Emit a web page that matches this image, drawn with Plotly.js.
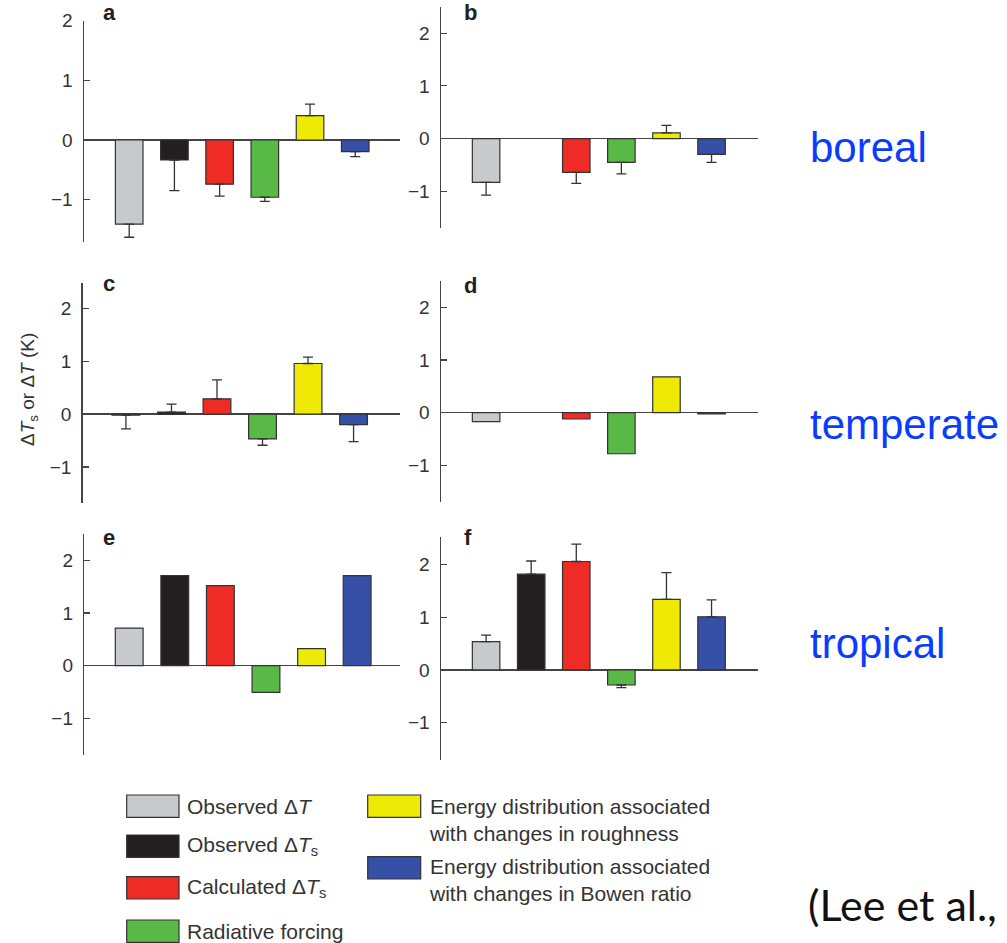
<!DOCTYPE html>
<html>
<head>
<meta charset="utf-8">
<script src="https://cdn.plot.ly/plotly-3.0.1.min.js"></script>
<style>html,body{margin:0;padding:0;background:#fff;}#chart{width:1007px;height:943px;}</style>
</head>
<body>
<div id="chart"></div>
<script>
// ---------------- DATA ----------------
const categories = ['Observed ΔT', 'Observed ΔTs', 'Calculated ΔTs', 'Radiative forcing',
  'Energy distribution (roughness)', 'Energy distribution (Bowen ratio)'];
const legendLabels = ['Observed Δ<i>T</i>', 'Observed Δ<i>T</i><sub>s</sub>', 'Calculated Δ<i>T</i><sub>s</sub>',
  'Radiative forcing', 'Energy distribution associated<br>with changes in roughness',
  'Energy distribution associated<br>with changes in Bowen ratio'];
const panelLetters = ['a', 'b', 'c', 'd', 'e', 'f'];
const regionLabels = ['boreal', 'temperate', 'tropical'];
const citation = '(Lee et al.,';
const yTickVals = [-1, 0, 1, 2];
const yTickText = ['\u22121', '0', '1', '2'];
const yTitle = 'Δ<i>T</i><sub>s</sub> or Δ<i>T</i> (K)';

// values (K) and one-sided error magnitudes
const valuesA = [-1.41, -0.335, -0.74, -0.96, 0.41, -0.195];
const errorsA = [0.22, 0.515, 0.20, 0.07, 0.19, 0.085];
const valuesB = [-0.83, null, -0.64, -0.45, 0.11, -0.30];
const errorsB = [0.24, null, 0.21, 0.22, 0.14, 0.15];
const valuesC = [-0.02, 0.04, 0.29, -0.47, 0.96, -0.20];
const errorsC = [0.26, 0.15, 0.36, 0.12, 0.12, 0.32];
const valuesD = [-0.17, null, -0.12, -0.78, 0.68, -0.025];
const errorsD = null;
const valuesE = [0.71, 1.71, 1.52, -0.51, 0.32, 1.71];
const errorsE = null;
const valuesF = [0.54, 1.82, 2.06, -0.285, 1.34, 1.01];
const errorsF = [0.12, 0.25, 0.33, 0.05, 0.51, 0.32];

// ---------------- STYLE / LAYOUT ----------------
const barColors = ['#c8c9cc', '#231f20', '#ee2b24', '#58b946', '#eeea05', '#3550a6'];
const W = 1007, H = 943;
const px = x => x / W;
const py = y => 1 - y / H;
const FONT = 'Liberation Sans, Arial, Helvetica, sans-serif';
const INK = '#333333';

// panel geometry in pixels: [xLeft, xRight], [yTop, yBottom], y range, x range
const panels = [
  {vals: valuesA, errs: errorsA, xd: [84, 400],   yd: [20.7, 242],  yr: [-1.71, 2.0],  xr: [0, 6.99],     letter: [101, 21.7]},
  {vals: valuesB, errs: errorsB, xd: [441, 758],  yd: [7.3, 228.3], yr: [-1.70, 2.49], xr: [0, 7.03],     letter: [462, 21.7]},
  {vals: valuesC, errs: errorsC, xd: [82.7, 400], yd: [283.3, 503.3], yr: [-1.69, 2.48], xr: [0.05, 7.02], letter: [101, 293]},
  {vals: valuesD, errs: errorsD, xd: [441, 758],  yd: [281, 501.7], yr: [-1.69, 2.50], xr: [0, 7.03],     letter: [462, 295]},
  {vals: valuesE, errs: errorsE, xd: [84.3, 400], yd: [534, 755],   yr: [-1.70, 2.50], xr: [0.015, 6.94], letter: [101, 546.7]},
  {vals: valuesF, errs: errorsF, xd: [441, 758],  yd: [537.3, 760], yr: [-1.71, 2.52], xr: [0, 7.03],     letter: [462, 546.7]}
];

const xPos = categories.map((_, i) => i + 1);
const traces = [];
const layout = {
  width: W, height: H,
  margin: {l: 0, r: 0, t: 0, b: 0},
  paper_bgcolor: '#ffffff', plot_bgcolor: 'rgba(0,0,0,0)',
  showlegend: false,
  bargap: 0,
  font: {family: FONT, color: INK},
  annotations: [],
  shapes: []
};

panels.forEach((p, k) => {
  const n = k === 0 ? '' : String(k + 1);
  const tr = {
    type: 'bar',
    x: xPos,
    y: p.vals,
    width: xPos.map(() => 0.61),
    marker: {color: barColors, line: {color: INK, width: 1.2}},
    xaxis: 'x' + n, yaxis: 'y' + n,
    hoverinfo: 'skip',
    cliponaxis: false
  };
  if (p.errs) {
    tr.error_y = {
      type: 'data', symmetric: false,
      array: p.vals.map((v, i) => (v === null ? 0 : (v >= 0 ? p.errs[i] : 0))),
      arrayminus: p.vals.map((v, i) => (v === null ? 0 : (v < 0 ? p.errs[i] : 0))),
      color: INK, thickness: 1.3, width: 5
    };
  }
  traces.push(tr);
  layout['xaxis' + n] = {
    domain: [px(p.xd[0]), px(p.xd[1])], range: p.xr,
    anchor: 'y' + n, visible: false, fixedrange: true
  };
  layout['yaxis' + n] = {
    domain: [py(p.yd[1]), py(p.yd[0])], range: p.yr,
    anchor: 'x' + n, showgrid: false,
    zeroline: true, zerolinecolor: '#444', zerolinewidth: 1.5,
    showline: true, linecolor: '#444', linewidth: 1.5,
    ticks: 'inside', ticklen: 6, tickwidth: 1.2, tickcolor: '#444',
    tickvals: yTickVals, ticktext: yTickText,
    tickfont: {family: FONT, size: 19, color: INK},
    ticklabelstandoff: 6, fixedrange: true
  };
  layout.annotations.push({
    xref: 'paper', yref: 'paper', x: px(p.letter[0]), y: py(p.letter[1] + 5),
    xanchor: 'left', yanchor: 'bottom', showarrow: false,
    text: '<b>' + panelLetters[k] + '</b>',
    font: {family: FONT, size: 22, color: '#222'}
  });
});

// y-axis title (shared)
layout.annotations.push({
  xref: 'paper', yref: 'paper', x: px(29), y: py(390), textangle: -90,
  xanchor: 'center', yanchor: 'middle', showarrow: false,
  text: yTitle, font: {family: FONT, size: 19, color: INK}
});

// region labels
const regionY = [147, 425, 643];
regionLabels.forEach((t, i) => {
  layout.annotations.push({
    xref: 'paper', yref: 'paper', x: px(808), y: py(regionY[i]),
    xanchor: 'left', yanchor: 'middle', showarrow: false,
    text: t, font: {family: FONT, size: 42, color: '#0a3cff'}
  });
});
layout.annotations.push({
  xref: 'paper', yref: 'paper', x: px(806), y: py(904),
  xanchor: 'left', yanchor: 'middle', showarrow: false,
  text: citation, font: {family: 'Lato, Carlito, sans-serif', size: 43, color: '#111'}
});

// legend (drawn manually: swatches + labels)
const legendSlots = [
  {sx: [126.7, 179], sy: [795, 817.3], ty: 806},
  {sx: [126.7, 179], sy: [835, 857.3], ty: 846},
  {sx: [126.7, 179], sy: [876.7, 899], ty: 888},
  {sx: [126.7, 179], sy: [920, 942.3], ty: 931},
  {sx: [367.7, 420.7], sy: [795, 817.3], ty: 820},
  {sx: [367.7, 420.7], sy: [856.7, 879], ty: 880}
];
legendSlots.forEach((s, i) => {
  layout.shapes.push({
    type: 'rect', xref: 'paper', yref: 'paper',
    x0: px(s.sx[0]), x1: px(s.sx[1]), y0: py(s.sy[1]), y1: py(s.sy[0]),
    fillcolor: barColors[i], line: {color: INK, width: 1.2}
  });
  layout.annotations.push({
    xref: 'paper', yref: 'paper', x: px(s.sx[1] + 6), y: py(s.ty),
    xanchor: 'left', yanchor: 'middle', align: 'left', showarrow: false,
    text: legendLabels[i], font: {family: FONT, size: 21, color: INK}
  });
});

Plotly.newPlot('chart', traces, layout, {displayModeBar: false, staticPlot: true});
</script>
</body>
</html>
